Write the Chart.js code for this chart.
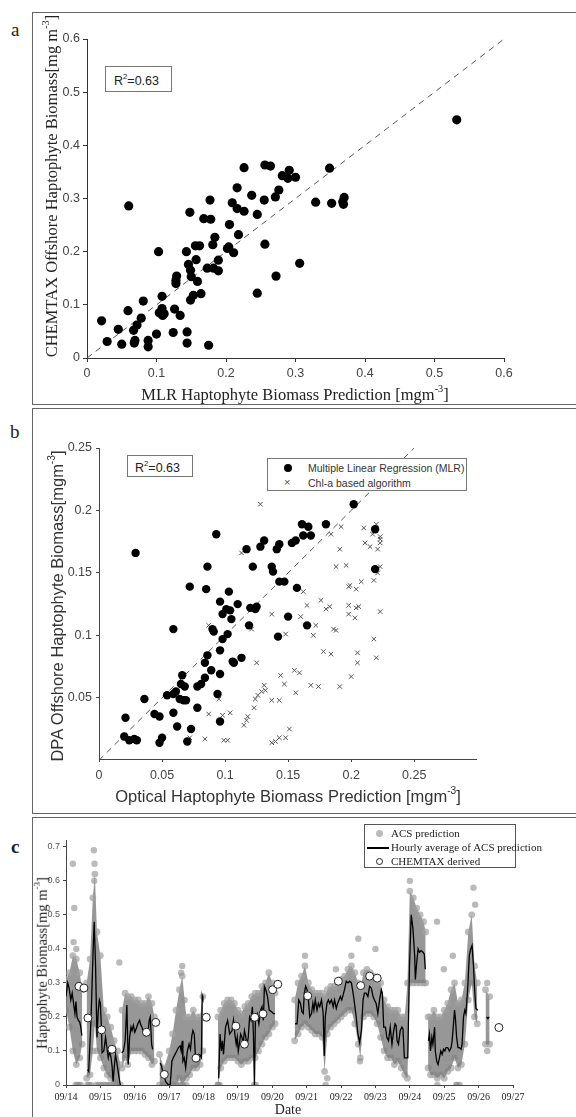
<!DOCTYPE html>
<html><head><meta charset="utf-8">
<script src="https://cdn.jsdelivr.net/npm/chart.js@4.4.1/dist/chart.umd.min.js"></script>
<style>
body{margin:0;width:576px;height:1117px;position:relative;background:#fff;overflow:hidden;}
.frame{position:absolute;border:1px solid #666;border-right:none;box-sizing:border-box;}
canvas{position:absolute;}
.t{position:absolute;white-space:nowrap;color:#222;line-height:1;}
.rot{transform:translate(-50%,-50%) rotate(-90deg);}
.ctr{transform:translate(-50%,-50%);}
.serif{font-family:"Liberation Serif","DejaVu Serif",serif;}
.sans{font-family:"Liberation Sans","DejaVu Sans",sans-serif;}
sup{font-size:62%;line-height:0;vertical-align:0.75em;}
.box{position:absolute;border:1px solid #777;background:#fff;box-sizing:border-box;}
</style></head><body>

<div class="frame" style="left:32px;top:12px;width:544px;height:393px;"></div>
<div class="frame" style="left:32px;top:408px;width:544px;height:406px;"></div>
<div class="frame" style="left:32px;top:817px;width:544px;height:310px;"></div>

<canvas id="ca" width="542" height="390" style="left:33px;top:13px;"></canvas>
<canvas id="cb" width="542" height="403" style="left:33px;top:409px;"></canvas>
<canvas id="cc" width="542" height="298" style="left:33px;top:818px;"></canvas>

<div class="t serif" style="left:11px;top:20px;font-size:19px;">a</div>
<div class="t serif" style="left:10px;top:422px;font-size:19px;">b</div>
<div class="t serif" style="left:11px;top:837px;font-size:19px;font-weight:bold;">c</div>

<div class="t serif rot" style="left:52px;top:186px;font-size:16.5px;">CHEMTAX Offshore Haptophyte Biomass[mg m<sup>-3</sup>]</div>
<div class="t serif ctr" style="left:295px;top:395px;font-size:16.5px;">MLR Haptophyte Biomass Prediction [mgm<sup>-3</sup>]</div>
<div class="box sans" style="left:105px;top:66px;width:67px;height:26px;font-size:12.5px;color:#222;padding:7px 0 0 8px;">R<sup>2</sup>=0.63</div>

<div class="t sans rot" style="left:57px;top:606px;font-size:16.5px;color:#333;">DPA Offshore Haptophyte Biomass[mgm<sup>-3</sup>]</div>
<div class="t sans ctr" style="left:288px;top:796px;font-size:16.5px;color:#333;">Optical Haptophyte Biomass Prediction [mgm<sup>-3</sup>]</div>
<div class="box sans" style="left:127px;top:455px;width:66px;height:22px;font-size:12.5px;color:#222;padding:5px 0 0 7px;">R<sup>2</sup>=0.63</div>
<div class="box sans" style="left:267px;top:458px;width:200px;height:33px;font-size:10.5px;color:#333;">
  <div style="position:absolute;left:16px;top:5px;width:8px;height:8px;border-radius:50%;background:#000;"></div>
  <div class="t" style="left:40px;top:4px;color:#333;">Multiple Linear Regression (MLR)</div>
  <div class="t" style="left:16px;top:18px;color:#555;font-size:11px;">×</div>
  <div class="t" style="left:40px;top:19px;color:#333;">Chl-a based algorithm</div>
</div>

<div class="t serif rot" style="left:42px;top:963px;font-size:14.5px;">Haptophyte Biomass[mg m<sup>-3</sup>]</div>
<div class="t serif ctr" style="left:288px;top:1110px;font-size:14px;">Date</div>
<div class="box serif" style="left:364px;top:824px;width:152px;height:44px;border-color:#555;font-size:11px;color:#222;">
  <div style="position:absolute;left:11px;top:5px;width:7px;height:7px;border-radius:50%;background:#bbb;"></div>
  <div class="t" style="left:26px;top:3px;">ACS prediction</div>
  <div style="position:absolute;left:2px;top:22px;width:22px;height:2px;background:#000;"></div>
  <div class="t" style="left:26px;top:17px;">Hourly average of ACS prediction</div>
  <div style="position:absolute;left:11px;top:33px;width:5px;height:5px;border-radius:50%;border:1px solid #222;background:#fff;"></div>
  <div class="t" style="left:26px;top:31px;">CHEMTAX derived</div>
</div>

<script>
// ---------- Panel a ----------
const aOneToOneX = [0, 0.6];
const aOneToOneY = [0, 0.6];
const aMLR = [0.021,0.029,0.045,0.050,0.059,0.060,0.067,0.068,0.069,0.072,0.078,0.081,0.088,0.088,0.100,0.103,0.104,0.107,0.108,0.108,0.109,0.111,0.126,0.124,0.128,0.129,0.128,0.134,0.143,0.144,0.144,0.148,0.146,0.149,0.149,0.150,0.153,0.156,0.157,0.159,0.162,0.164,0.168,0.173,0.175,0.177,0.178,0.181,0.184,0.182,0.189,0.189,0.205,0.202,0.204,0.209,0.211,0.216,0.216,0.218,0.226,0.226,0.237,0.245,0.245,0.256,0.255,0.256,0.264,0.271,0.276,0.272,0.281,0.289,0.291,0.300,0.306,0.329,0.349,0.352,0.368,0.370,0.369,0.532];
const aCHEMTAX = [0.070,0.031,0.054,0.026,0.089,0.286,0.052,0.028,0.033,0.062,0.075,0.107,0.033,0.021,0.045,0.200,0.085,0.083,0.093,0.116,0.080,0.083,0.092,0.048,0.146,0.154,0.140,0.080,0.200,0.049,0.028,0.274,0.176,0.165,0.109,0.153,0.118,0.211,0.185,0.144,0.211,0.121,0.262,0.169,0.024,0.297,0.261,0.213,0.227,0.169,0.184,0.164,0.251,0.206,0.209,0.292,0.198,0.320,0.281,0.232,0.358,0.276,0.306,0.270,0.122,0.363,0.297,0.214,0.361,0.303,0.316,0.154,0.343,0.338,0.353,0.340,0.178,0.293,0.357,0.291,0.294,0.302,0.289,0.448];
const aTicks = [0,0.1,0.2,0.3,0.4,0.5,0.6];

// ---------- Panel b ----------
const bOneToOneX = [0, 0.25];
const bOneToOneY = [0, 0.25];
const bMlrX = [0.021,0.020,0.024,0.028,0.030,0.029,0.036,0.044,0.048,0.048,0.050,0.054,0.059,0.059,0.061,0.059,0.062,0.064,0.066,0.065,0.068,0.067,0.069,0.070,0.073,0.072,0.078,0.078,0.081,0.084,0.084,0.086,0.085,0.086,0.089,0.090,0.091,0.093,0.094,0.096,0.096,0.096,0.096,0.098,0.098,0.101,0.102,0.103,0.104,0.105,0.106,0.107,0.110,0.113,0.117,0.119,0.120,0.122,0.124,0.125,0.128,0.131,0.137,0.138,0.141,0.143,0.142,0.143,0.147,0.150,0.153,0.156,0.157,0.161,0.162,0.166,0.168,0.165,0.180,0.202,0.219,0.219];
const bMlrY = [0.034,0.019,0.016,0.017,0.016,0.166,0.049,0.037,0.035,0.014,0.018,0.052,0.038,0.053,0.055,0.105,0.027,0.049,0.068,0.061,0.059,0.048,0.048,0.015,0.025,0.139,0.042,0.059,0.061,0.066,0.078,0.155,0.137,0.084,0.072,0.105,0.103,0.181,0.053,0.031,0.127,0.069,0.088,0.097,0.117,0.121,0.101,0.135,0.120,0.113,0.079,0.078,0.125,0.082,0.169,0.108,0.122,0.155,0.121,0.123,0.171,0.176,0.155,0.151,0.169,0.173,0.099,0.143,0.143,0.115,0.174,0.176,0.138,0.189,0.180,0.187,0.180,0.108,0.189,0.205,0.185,0.153];
const bChlX = [0.128,0.113,0.087,0.095,0.087,0.098,0.104,0.084,0.072,0.099,0.102,0.115,0.117,0.118,0.121,0.125,0.123,0.124,0.126,0.129,0.131,0.132,0.137,0.137,0.143,0.144,0.147,0.148,0.137,0.140,0.143,0.148,0.151,0.155,0.156,0.159,0.160,0.162,0.165,0.168,0.170,0.172,0.174,0.176,0.178,0.180,0.183,0.184,0.184,0.186,0.188,0.188,0.191,0.192,0.191,0.196,0.198,0.199,0.198,0.198,0.200,0.203,0.204,0.204,0.206,0.205,0.205,0.208,0.210,0.211,0.215,0.218,0.217,0.218,0.220,0.220,0.221,0.221,0.223,0.223,0.223,0.223,0.223];
const bChlY = [0.205,0.166,0.108,0.049,0.037,0.036,0.038,0.017,0.018,0.016,0.016,0.028,0.032,0.035,0.105,0.078,0.042,0.049,0.052,0.055,0.060,0.056,0.117,0.048,0.048,0.068,0.061,0.101,0.014,0.015,0.018,0.018,0.025,0.072,0.054,0.070,0.115,0.135,0.124,0.060,0.100,0.108,0.059,0.128,0.087,0.121,0.123,0.085,0.181,0.105,0.155,0.104,0.169,0.187,0.059,0.156,0.139,0.140,0.124,0.117,0.067,0.114,0.137,0.122,0.123,0.086,0.078,0.143,0.186,0.174,0.171,0.097,0.181,0.144,0.189,0.082,0.169,0.150,0.174,0.119,0.155,0.177,0.179];

// ---------- Panel c (t = days after 09/14 00:00) ----------
const cDateLabels = ['09/14','09/15','09/16','09/17','09/18','09/19','09/20','09/21','09/22','09/23','09/24','09/25','09/26','09/27'];
const cAvgT = [0,0.05,0.09,0.14,0.18,0.22,0.26,0.29,0.32,0.36,0.40,0.43,0.46,0.55,
 0.63,0.66,0.73,0.79,0.82,0.86,0.90,0.94,0.97,1.0,1.03,1.05,1.10,1.15,1.19,1.23,1.27,1.31,1.34,1.37,1.41,1.44,1.48,1.53,1.58,1.60,
 1.62,1.67,1.72,1.77,1.81,1.85,1.89,1.92,1.96,2.0,2.04,2.09,2.14,2.18,2.21,2.25,2.29,2.33,2.38,2.42,2.45,2.49,2.52,2.6,
 2.74,2.78,2.81,2.85,2.90,2.98,3.03,3.08,3.12,3.17,3.22,3.27,3.32,3.35,3.38,3.40,3.44,3.48,3.53,3.58,3.62,3.66,3.69,3.73,3.76,3.80,3.85,3.90,3.94,3.96,3.98,4.2,
 4.44,4.48,4.52,4.55,4.58,4.64,4.70,4.76,4.83,4.87,4.91,4.95,4.98,5.01,5.04,5.08,5.12,5.15,5.19,5.23,5.27,5.30,5.34,5.38,5.42,5.45,5.48,5.51,5.56,5.61,5.66,5.70,5.74,5.77,5.81,5.86,5.91,5.98,6.03,6.08,6.3,
 6.66,6.72,6.77,6.82,6.86,6.90,6.93,6.97,7.01,7.05,7.09,7.14,7.18,7.21,7.25,7.30,7.34,7.38,7.43,7.48,7.51,7.54,7.59,7.63,7.67,7.72,7.77,7.81,7.86,7.90,7.94,7.98,8.02,8.06,8.10,8.15,8.20,8.25,8.30,8.35,8.39,8.44,8.49,8.54,8.59,8.64,8.68,8.73,8.78,8.83,8.88,8.93,8.97,9.02,9.07,9.12,9.17,9.20,9.24,9.29,9.33,9.38,9.43,9.48,9.53,9.57,9.60,9.63,9.67,9.72,9.77,9.80,9.84,9.89,9.94,9.99,10.04,10.09,10.14,10.16,10.20,10.24,10.28,10.33,10.38,10.42,10.45,10.5,
 10.54,10.57,10.60,10.64,10.67,10.72,10.74,10.78,10.82,10.86,10.90,10.94,10.98,11.02,11.05,11.10,11.15,11.20,11.23,11.27,11.30,11.33,11.36,11.40,11.44,11.49,11.52,11.56,11.60,11.63,11.68,11.73,11.77,11.81,11.85,11.89,11.92,11.98,12.1,
 12.23,12.27,12.31];
const cAvgV = [0.26,0.30,0.285,0.25,0.27,0.24,0.21,0.245,0.20,0.19,0.185,0.17,0.145,null,
 0.045,0.04,0.20,0.40,0.48,0.35,0.14,0.22,0.25,0.24,0.17,0.095,0.10,0.14,0.11,0.08,0.10,0.08,0.055,0.01,0.06,0.09,0.065,0.03,0.0,null,
 0.095,0.10,0.13,0.235,0.06,0.14,0.17,0.16,0.175,0.155,0.165,0.18,0.19,0.175,0.17,0.155,0.16,0.145,0.15,0.19,0.20,0.12,0.105,null,
 0.065,0.055,0.04,0.03,0.01,0.0,0.0,0.07,0.08,0.09,0.10,0.11,0.115,0.10,0.13,0.07,0.08,0.05,0.10,0.12,0.105,0.145,0.16,0.15,0.09,0.08,0.09,0.088,0.08,0.263,0.255,null,
 0.02,0.15,0.10,0.13,0.09,0.17,0.19,0.15,0.16,0.19,0.15,0.12,0.14,0.10,0.12,0.15,0.14,0.12,0.16,0.14,0.12,0.14,0.20,0.19,0.23,0.15,0.0,0.20,0.21,0.18,0.22,0.23,0.19,0.29,0.28,0.26,0.22,0.215,0.21,0.21,null,
 0.18,0.18,0.25,0.24,0.215,0.21,0.27,0.29,0.28,0.25,0.20,0.21,0.24,0.22,0.25,0.22,0.24,0.23,0.25,0.21,0.085,0.20,0.24,0.25,0.24,0.25,0.23,0.25,0.225,0.24,0.25,0.26,0.25,0.265,0.28,0.305,0.30,0.305,0.30,0.27,0.24,0.20,0.15,0.125,0.16,0.25,0.27,0.27,0.26,0.29,0.285,0.26,0.25,0.24,0.21,0.25,0.28,0.27,0.17,0.17,0.14,0.13,0.17,0.12,0.16,0.18,0.175,0.13,0.12,0.16,0.17,0.165,0.08,0.08,0.08,0.35,0.50,0.46,0.38,0.31,0.36,0.40,0.39,0.395,0.39,0.385,0.34,null,
 0.13,0.15,0.10,0.14,0.12,0.17,0.10,0.07,0.06,0.08,0.10,0.09,0.105,0.10,0.11,0.11,0.10,0.11,0.13,0.18,0.22,0.19,0.14,0.11,0.11,0.105,0.12,0.20,0.22,0.21,0.28,0.38,0.40,0.41,0.35,0.27,0.225,0.22,null,
 0.20,0.195,0.20];

const cCloudT = [0,0.1,0.2,0.3,0.4,0.47,0.53,
 0.6,0.7,0.78,0.84,0.9,1.0,1.1,1.2,1.3,1.4,1.5,1.58,1.6,
 1.63,1.72,1.8,1.9,2.0,2.1,2.2,2.3,2.4,2.5,2.57,2.65,
 2.72,2.85,3.0,3.1,3.2,3.3,3.38,3.5,3.6,3.7,3.8,3.9,3.98,4.2,
 4.42,4.5,4.6,4.7,4.8,4.9,5.0,5.1,5.2,5.3,5.4,5.5,5.6,5.7,5.8,5.9,6.0,6.08,6.3,
 6.65,6.75,6.85,6.95,7.05,7.15,7.25,7.35,7.45,7.52,7.6,7.7,7.8,7.9,8.0,8.1,8.2,8.3,8.4,8.5,8.56,8.65,8.75,8.85,8.95,9.05,9.15,9.25,9.35,9.45,9.55,9.65,9.75,9.85,9.93,10.0,10.1,10.2,10.3,10.4,10.46,10.5,
 10.53,10.6,10.7,10.8,10.9,11.0,11.1,11.2,11.3,11.4,11.5,11.6,11.7,11.8,11.88,11.96,12.1,
 12.2,12.32];
const cCloudLo = [0.22,0.17,0.10,0.06,0.08,0.12,null,
 0.02,0.03,0.10,0.18,0.10,0.08,0.05,0.03,0.02,0.01,0.0,0.0,null,
 0.05,0.08,0.06,0.10,0.10,0.10,0.10,0.09,0.08,0.06,0.07,null,
 0.0,0.0,0.0,0.0,0.0,0.02,0.0,0.02,0.03,0.05,0.05,0.06,0.10,null,
 0.0,0.05,0.07,0.08,0.08,0.08,0.07,0.06,0.07,0.07,0.08,0.08,0.10,0.12,0.14,0.15,0.17,0.18,null,
 0.13,0.15,0.17,0.18,0.17,0.16,0.15,0.15,0.14,0.04,0.15,0.17,0.18,0.19,0.20,0.21,0.22,0.22,0.18,0.12,0.08,0.20,0.21,0.21,0.20,0.18,0.14,0.10,0.08,0.08,0.06,0.07,0.05,0.03,0.02,0.30,0.30,0.30,0.30,0.30,0.30,null,
 0.05,0.03,0.03,0.02,0.03,0.02,0.04,0.05,0.08,0.05,0.06,0.12,0.25,0.30,0.20,0.18,null,
 0.12,0.12];
const cCloudHi = [0.31,0.33,0.38,0.37,0.33,0.28,null,
 0.30,0.37,0.55,0.62,0.45,0.38,0.22,0.20,0.17,0.13,0.10,0.06,null,
 0.22,0.27,0.26,0.26,0.25,0.25,0.24,0.24,0.26,0.24,0.20,null,
 0.09,0.05,0.10,0.15,0.22,0.28,0.32,0.20,0.20,0.22,0.20,0.20,0.26,null,
 0.20,0.22,0.24,0.25,0.25,0.24,0.22,0.21,0.23,0.24,0.26,0.27,0.27,0.29,0.30,0.33,0.30,0.27,null,
 0.25,0.30,0.32,0.35,0.30,0.28,0.27,0.27,0.27,0.26,0.28,0.29,0.29,0.30,0.31,0.32,0.34,0.35,0.33,0.30,0.28,0.33,0.34,0.33,0.32,0.30,0.30,0.25,0.23,0.22,0.22,0.22,0.20,0.20,0.30,0.57,0.55,0.52,0.50,0.48,0.45,null,
 0.20,0.20,0.22,0.20,0.20,0.22,0.24,0.28,0.30,0.24,0.25,0.30,0.45,0.50,0.35,0.30,null,
 0.28,0.26];

const cOutT = [0.2,0.24,0.22,0.3,0.81,0.83,0.82,1.55,3.38,3.35,3.45,6.95,7.85,8.5,8.3,9.0,10.0,10.79,10.99,11.25,11.85,11.9,12.25,12.25,7.55,7.6,8.55,
 0.28,0.33,0.38,0.43,0.62,0.67,0.72,0.88,0.95,1.02,1.1,1.17,1.24,1.3,1.4,1.48,2.92,3.05,3.2,3.3,3.4,3.5,4.42,4.47,5.47,5.52,10.8,11.35,11.38,11.45];
const cOutV = [0.65,0.52,0.42,0.40,0.69,0.65,0.60,0.36,0.35,0.33,0.25,0.38,0.34,0.43,0.38,0.40,0.60,0.48,0.34,0.38,0.58,0.53,0.30,0.10,0.0,0.02,0.07,
 0,0,0,0,0,0,0,0,0,0,0,0,0,0,0,0,0,0,0,0,0,0,0,0,0,0,0,0,0,0];

const cChemT = [0.377,0.522,0.638,1.035,1.335,2.34,2.61,2.86,3.78,4.08,4.94,5.19,5.49,5.73,6.01,6.16,7.03,7.92,8.57,8.83,9.05,12.59];
const cChemV = [0.290,0.285,0.197,0.162,0.105,0.155,0.184,0.031,0.079,0.199,0.173,0.120,0.199,0.209,0.280,0.296,0.262,0.305,0.292,0.320,0.314,0.169];

// ---------- helpers ----------
const pts = (xs, ys) => xs.map((x, i) => ({x: x, y: ys[i]}));
const fmt = v => String(+(+v).toFixed(3));
const base = (padding) => ({
  responsive: false, animation: false, events: [],
  layout: {padding: padding},
  plugins: {legend: {display: false}, tooltip: {enabled: false}, title: {display: false}}
});
const sansTick = (size) => ({family: 'Liberation Sans', size: size});

// ---------- Chart a ----------
new Chart(document.getElementById('ca'), {
  type: 'line',
  data: {datasets: [
    {data: pts(aMLR, aCHEMTAX), showLine: false, pointRadius: 4.6, pointBackgroundColor: '#000', pointBorderColor: '#000', pointBorderWidth: 0},
    {data: pts(aOneToOneX, aOneToOneY), borderColor: '#555', borderWidth: 1, borderDash: [6, 5], pointRadius: 0, fill: false}
  ]},
  options: Object.assign(base({left: 0, top: 26, right: 71, bottom: 0}), {
    scales: {
      x: {type: 'linear', min: 0, max: 0.6, afterFit: s => { s.height = 45; },
          afterBuildTicks: s => { s.ticks = aTicks.map(v => ({value: v})); },
          ticks: {color: '#444', font: sansTick(12.5), maxRotation: 0, padding: 4, callback: v => fmt(v)},
          grid: {drawOnChartArea: false, tickLength: 4, color: '#333'}, border: {color: '#333'}},
      y: {type: 'linear', min: 0, max: 0.6, afterFit: s => { s.width = 54; },
          afterBuildTicks: s => { s.ticks = aTicks.map(v => ({value: v})); },
          ticks: {color: '#444', font: sansTick(12.5), padding: 3, callback: v => fmt(v)},
          grid: {drawOnChartArea: false, tickLength: 4, color: '#333'}, border: {color: '#333'}}
    }
  })
});

// ---------- Chart b ----------
const bXTicks = [0, 0.05, 0.1, 0.15, 0.2, 0.25];
const bYTicks = [0.05, 0.1, 0.15, 0.2, 0.25];
new Chart(document.getElementById('cb'), {
  type: 'line',
  data: {datasets: [
    {data: pts(bMlrX, bMlrY), showLine: false, pointRadius: 4.2, pointBackgroundColor: '#000', pointBorderColor: '#000', pointBorderWidth: 0},
    {data: pts(bChlX, bChlY), showLine: false, pointStyle: 'crossRot', pointRadius: 3.2, pointBorderColor: '#555', pointBorderWidth: 1},
    {data: pts(bOneToOneX, bOneToOneY), borderColor: '#555', borderWidth: 1, borderDash: [6, 5], pointRadius: 0, fill: false}
  ]},
  options: Object.assign(base({left: 0, top: 39, right: 99, bottom: 0}), {
    scales: {
      x: {type: 'linear', min: 0, max: 0.299, afterFit: s => { s.height = 53; },
          afterBuildTicks: s => { s.ticks = bXTicks.map(v => ({value: v})); },
          ticks: {color: '#444', font: sansTick(12.5), maxRotation: 0, padding: 6, callback: v => fmt(v)},
          grid: {drawOnChartArea: false, tickLength: 3, color: '#444'}, border: {color: '#444'}},
      y: {type: 'linear', min: 0.001, max: 0.25, afterFit: s => { s.width = 66; },
          afterBuildTicks: s => { s.ticks = bYTicks.map(v => ({value: v})); },
          ticks: {color: '#444', font: sansTick(12.5), padding: 4, callback: v => fmt(v)},
          grid: {drawOnChartArea: false, tickLength: 3, color: '#444'}, border: {color: '#444'}}
    }
  })
});

// ---------- Chart c ----------
const cYTicks = [0, 0.1, 0.2, 0.3, 0.4, 0.5, 0.6, 0.7];
new Chart(document.getElementById('cc'), {
  type: 'line',
  data: {datasets: [
    {data: pts(cChemT, cChemV), showLine: false, pointRadius: 4, pointBackgroundColor: '#fff', pointBorderColor: '#222', pointBorderWidth: 1},
    {data: pts(cAvgT, cAvgV), borderColor: '#000', borderWidth: 1.3, pointRadius: 0, fill: false, spanGaps: false},
    {data: pts(cOutT, cOutV), showLine: false, pointRadius: 3.2, pointBackgroundColor: 'rgba(140,140,140,0.6)', pointBorderWidth: 0},
    {data: pts(cCloudT, cCloudHi), borderWidth: 0, borderColor: 'rgba(0,0,0,0)', backgroundColor: 'rgba(125,125,125,0.8)', fill: '+1',
     pointRadius: 3.4, pointBackgroundColor: 'rgba(160,160,160,0.7)', pointBorderWidth: 0, spanGaps: false},
    {data: pts(cCloudT, cCloudLo), borderWidth: 0, borderColor: 'rgba(0,0,0,0)', fill: false,
     pointRadius: 3.4, pointBackgroundColor: 'rgba(160,160,160,0.7)', pointBorderWidth: 0, spanGaps: false}
  ]},
  options: Object.assign(base({left: 0, top: 22, right: 62, bottom: 0}), {
    scales: {
      x: {type: 'linear', min: 0, max: 13, afterFit: s => { s.height = 31; },
          afterBuildTicks: s => { s.ticks = cDateLabels.map((l, i) => ({value: i})); },
          ticks: {color: '#222', font: {family: 'Liberation Serif', size: 10}, maxRotation: 0, autoSkip: false, padding: 3,
                  callback: (v) => cDateLabels[Math.round(v)]},
          grid: {drawOnChartArea: false, tickLength: 3, color: '#444'}, border: {color: '#444'}},
      y: {type: 'linear', min: 0, max: 0.72, afterFit: s => { s.width = 33; },
          afterBuildTicks: s => { s.ticks = cYTicks.map(v => ({value: v})); },
          ticks: {color: '#555', font: {family: 'Liberation Sans', size: 9}, padding: 3, callback: v => fmt(v)},
          grid: {drawOnChartArea: false, tickLength: 3, color: '#444'}, border: {color: '#444'}}
    }
  })
});
</script>
</body></html>
